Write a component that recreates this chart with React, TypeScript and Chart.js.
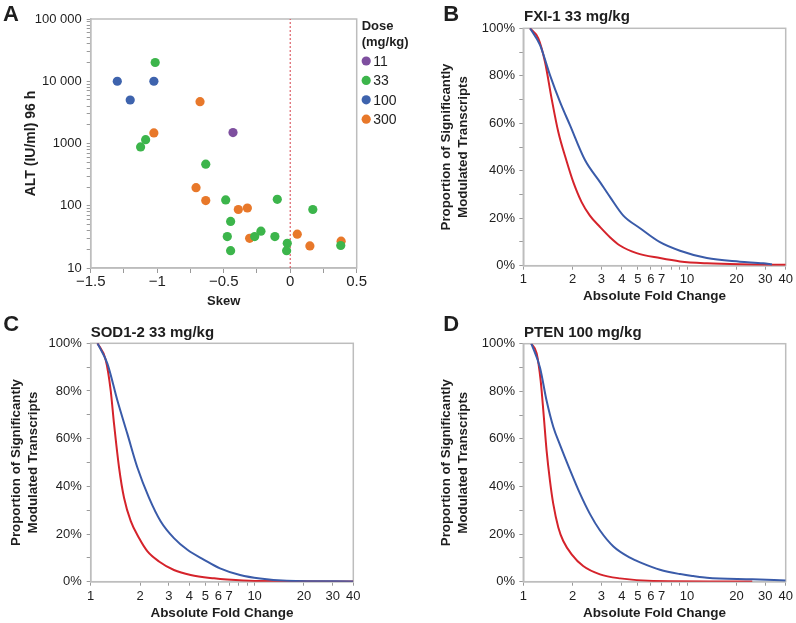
import React, { useEffect, useRef } from 'react';
import { Chart, registerables } from 'chart.js';

Chart.register(...registerables);

const FONT = "'Liberation Sans', Arial, Helvetica, sans-serif";
Chart.defaults.font.family = FONT;

// ---------- Panel A data ----------
const DOSE_LABELS = ['11', '33', '100', '300'];
const DOSE_COLORS = ['#7e4f9f', '#3cb54b', '#3e63ad', '#e8782a'];
const SKEW_11 = [-0.43];
const ALT_11 = [1500];
const SKEW_33 = [-1.015, -1.125, -1.087, -0.635, -0.485, -0.097, 0.17, -0.448, -0.22, -0.473, -0.267, -0.115, -0.022, 0.38, -0.448, -0.027];
const ALT_33 = [20000, 880, 1150, 465, 124, 127, 87, 56, 39, 32, 32, 32, 25, 23, 19, 19];
const SKEW_100 = [-1.3, -1.203, -1.025];
const ALT_100 = [10000, 5000, 10000];
const SKEW_300 = [-0.678, -1.025, -0.708, -0.635, -0.39, -0.322, 0.053, -0.305, 0.383, 0.148];
const ALT_300 = [4700, 1480, 195, 121, 87, 92, 35, 30, 27, 22.6];
const REF_SKEW = 0;
const ALT_MIN = 10;
const ALT_MAX = 100000;
const ALT_LABEL_VALUES = [10, 100, 1000, 10000, 100000];
const ALT_LABELS = ['10', '100', '1000', '10 000', '100 000'];
const SKEW_TICKS = [-1.5, -1.25, -1, -0.75, -0.5, -0.25, 0, 0.25, 0.5];
const SKEW_LABEL_VALUES = [-1.5, -1, -0.5, 0, 0.5];
const SKEW_LABELS = ['\u22121.5', '\u22121', '\u22120.5', '0', '0.5'];

// ---------- Panels B-D data ----------
const FOLD_TICKS = [1, 2, 3, 4, 5, 6, 7, 8, 9, 10, 20, 30, 40];
const FOLD_LABELLED = [1, 2, 3, 4, 5, 6, 7, 10, 20, 30, 40];
const RED = '#d5232b';
const BLUE = '#3a5ba9';

const B_RED_X = [1.1, 1.235, 1.356, 1.489, 1.636, 1.839, 2.02, 2.27, 2.55, 2.94, 3.38, 3.89, 4.92, 6.83, 9.05, 13.2, 21, 40];
const B_RED_Y = [100, 95.8, 85.9, 70.4, 56.3, 44, 35.2, 26.8, 21.1, 16.3, 12, 8.5, 5.3, 3.2, 1.8, 1.0, 0.56, 0.4];
const B_BLUE_X = [1.1, 1.264, 1.455, 1.675, 1.927, 2.38, 2.94, 3.38, 4.08, 5.16, 6.83, 9.05, 13.2, 21, 29.2, 33];
const B_BLUE_Y = [100, 93, 80.3, 69, 59.2, 44.5, 35.2, 29, 21.1, 15.8, 9.9, 6.3, 3.2, 1.7, 1.0, 0.5];

const C_RED_X = [1.1, 1.235, 1.324, 1.388, 1.489, 1.597, 1.756, 1.972, 2.22, 2.61, 3.22, 4.07, 5.66, 6.8, 10, 40];
const C_RED_Y = [100, 93, 80.3, 66.2, 47.9, 35.2, 25.4, 18.3, 12.7, 8.5, 4.9, 2.8, 1.4, 0.9, 0.3, 0.1];
const C_BLUE_X = [1.1, 1.264, 1.455, 1.674, 1.926, 2.27, 2.67, 3.22, 3.89, 4.92, 6.15, 8.15, 10.8, 15.7, 40];
const C_BLUE_Y = [100, 91.5, 76, 62, 47.9, 35.2, 25.4, 18.3, 13.4, 9.2, 5.6, 2.8, 1.3, 0.4, 0.1];

const D_RED_X = [1.12, 1.206, 1.276, 1.33, 1.388, 1.455, 1.525, 1.636, 1.754, 1.973, 2.32, 2.94, 3.89, 6.2, 25];
const D_RED_Y = [100, 96, 84.6, 70.5, 55, 42.4, 32.6, 22.8, 17.1, 11.5, 6.6, 3.1, 1.4, 0.3, 0.1];
const D_BLUE_X = [1.12, 1.264, 1.388, 1.525, 1.675, 1.927, 2.22, 2.55, 2.94, 3.55, 4.48, 5.3, 6.83, 9.05, 10.9, 13.2, 25, 40];
const D_BLUE_Y = [100, 90, 76, 65, 57.5, 47, 37, 28.5, 21.5, 14.8, 10.1, 7.8, 5, 3.2, 2.4, 1.7, 1.0, 0.5];

const Y_TITLE = ['Proportion of Significantly', 'Modulated Transcripts'];
const X_TITLE = 'Absolute Fold Change';

const pts = (xs: number[], ys: number[]) => xs.map((x, i) => ({ x, y: ys[i] }));

const FRAME = '#bdbdbd';
const TICKC = '#9a9a9a';
const TEXTC = '#1e1e1e';

const decorPlugin = {
  id: 'decor',
  beforeDatasetsDraw(chart: any) {
    const { ctx, chartArea: ca } = chart;
    ctx.save();
    ctx.strokeStyle = FRAME;
    ctx.lineWidth = 1.5;
    ctx.strokeRect(ca.left, ca.top, ca.right - ca.left, ca.bottom - ca.top);
    ctx.restore();
  },
  afterDraw(chart: any, _a: any, opts: any) {
    const ctx = chart.ctx;
    ctx.save();
    ctx.textAlign = 'left';
    ctx.textBaseline = 'alphabetic';
    for (const t of opts.texts || []) {
      ctx.font = t.font;
      ctx.fillStyle = TEXTC;
      ctx.fillText(t.text, t.x, t.y);
    }
    const lg = opts.legend;
    if (lg) {
      ctx.font = `bold 13px ${FONT}`;
      ctx.fillStyle = TEXTC;
      ctx.fillText(lg.title[0], lg.x, lg.titleY[0]);
      ctx.fillText(lg.title[1], lg.x, lg.titleY[1]);
      ctx.font = `14px ${FONT}`;
      let k = 0;
      chart.data.datasets.forEach((ds: any) => {
        if (!DOSE_LABELS.includes(ds.label)) return;
        const cy = lg.itemY + k * lg.step;
        ctx.beginPath();
        ctx.fillStyle = ds.backgroundColor;
        ctx.arc(lg.x + 4.5, cy, 4.6, 0, Math.PI * 2);
        ctx.fill();
        ctx.fillStyle = TEXTC;
        ctx.fillText(ds.label, lg.x + 11.5, cy + 5);
        k++;
      });
    }
    ctx.restore();
  },
};

function makeScatterConfig(): any {
  const series = [
    [SKEW_11, ALT_11],
    [SKEW_33, ALT_33],
    [SKEW_100, ALT_100],
    [SKEW_300, ALT_300],
  ];
  const datasets: any[] = series.map(([xs, ys], i) => ({
    label: DOSE_LABELS[i],
    data: pts(xs, ys),
    backgroundColor: DOSE_COLORS[i],
    borderColor: DOSE_COLORS[i],
    pointRadius: 4.6,
    pointHoverRadius: 4.6,
    pointBorderWidth: 0,
  }));
  datasets.push({
    label: 'ref',
    type: 'line',
    data: [{ x: REF_SKEW, y: ALT_MIN }, { x: REF_SKEW, y: ALT_MAX }],
    showLine: true,
    borderColor: '#d8414a',
    borderWidth: 1,
    borderDash: [2, 2],
    pointRadius: 0,
  });
  const altTicks: number[] = [];
  for (let d = ALT_MIN; d < ALT_MAX; d *= 10) for (let m = 1; m < 10; m++) altTicks.push(m * d);
  altTicks.push(ALT_MAX);
  return {
    type: 'scatter',
    data: { datasets },
    options: {
      responsive: false,
      animation: false,
      events: [],
      layout: { padding: { left: 0, right: 68.3, top: 19, bottom: 0 }, autoPadding: false },
      plugins: {
        legend: { display: false },
        tooltip: { enabled: false },
        decor: {
          texts: [{ text: 'A', x: 3, y: 21, font: `bold 22px ${FONT}` }],
          legend: { x: 361.7, title: ['Dose', '(mg/kg)'], titleY: [30, 46], itemY: 61, step: 19.4 },
        },
      },
      scales: {
        x: {
          type: 'linear',
          min: -1.5,
          max: 0.5,
          afterBuildTicks: (s: any) => { s.ticks = SKEW_TICKS.map((v) => ({ value: v })); },
          afterFit: (s: any) => { s.height = 42; },
          ticks: {
            autoSkip: false,
            maxRotation: 0,
            padding: 0,
            color: TEXTC,
            font: { size: 15 },
            callback: (v: number) => {
              const i = SKEW_LABEL_VALUES.findIndex((u) => Math.abs(u - v) < 1e-6);
              return i >= 0 ? SKEW_LABELS[i] : '';
            },
          },
          grid: { display: true, drawOnChartArea: false, drawTicks: true, tickLength: 5, tickColor: TICKC, color: TICKC },
          border: { display: true, color: FRAME, width: 1.5 },
          title: { display: true, text: 'Skew', color: TEXTC, font: { size: 13, weight: 'bold' }, padding: { top: 0, bottom: 1.2 } },
        },
        y: {
          type: 'logarithmic',
          min: ALT_MIN,
          max: ALT_MAX,
          afterBuildTicks: (s: any) => { s.ticks = altTicks.map((v) => ({ value: v })); },
          afterFit: (s: any) => { s.width = 90.7; },
          ticks: {
            autoSkip: false,
            padding: 5,
            color: TEXTC,
            font: { size: 13 },
            callback: (v: number) => {
              const i = ALT_LABEL_VALUES.indexOf(v);
              return i >= 0 ? ALT_LABELS[i] : '';
            },
          },
          grid: { display: true, drawOnChartArea: false, drawTicks: true, tickLength: 4, tickColor: TICKC, color: TICKC },
          border: { display: true, color: FRAME, width: 1.5 },
          title: { display: true, text: 'ALT (IU/ml) 96 h', color: TEXTC, font: { size: 14, weight: 'bold' }, padding: { top: 22.3, bottom: 0 } },
        },
      },
    },
    plugins: [decorPlugin],
  };
}

function makeCurveConfig(p: any): any {
  return {
    type: 'line',
    data: {
      datasets: [
        { label: 'blue', data: pts(p.bx, p.by), borderColor: BLUE, borderWidth: 2, pointRadius: 0, cubicInterpolationMode: 'monotone', fill: false },
        { label: 'red', data: pts(p.rx, p.ry), borderColor: RED, borderWidth: 2, pointRadius: 0, cubicInterpolationMode: 'monotone', fill: false },
      ],
    },
    options: {
      responsive: false,
      animation: false,
      events: [],
      layout: { padding: { left: 0, right: p.padRight, top: p.padTop, bottom: 0 }, autoPadding: false },
      plugins: {
        legend: { display: false },
        tooltip: { enabled: false },
        decor: {
          texts: [
            { text: p.letter, x: p.letterX, y: p.letterY, font: `bold 22px ${FONT}` },
            { text: p.title, x: p.titleX, y: p.titleY, font: `bold 15px ${FONT}` },
          ],
        },
      },
      scales: {
        x: {
          type: 'logarithmic',
          min: 1,
          max: 40,
          afterBuildTicks: (s: any) => { s.ticks = FOLD_TICKS.map((v) => ({ value: v })); },
          afterFit: (s: any) => { s.height = p.xHeight; },
          ticks: {
            autoSkip: false,
            maxRotation: 0,
            padding: p.xTickPad,
            color: TEXTC,
            font: { size: 13 },
            callback: (v: number) => (FOLD_LABELLED.includes(v) ? String(v) : ''),
          },
          grid: { display: true, drawOnChartArea: false, drawTicks: true, tickLength: 4, tickColor: TICKC, color: TICKC },
          border: { display: true, color: FRAME, width: 1.5 },
          title: { display: true, text: X_TITLE, color: TEXTC, font: { size: 13.5, weight: 'bold' }, padding: { top: 0, bottom: p.xTitlePad } },
        },
        y: {
          type: 'linear',
          min: 0,
          max: 100,
          afterFit: (s: any) => { s.width = p.yWidth; },
          ticks: {
            stepSize: 10,
            autoSkip: false,
            padding: p.yTickPad,
            color: TEXTC,
            font: { size: 13 },
            callback: (v: number) => (Math.round(v) % 20 === 0 ? `${Math.round(v)}%` : ''),
          },
          grid: { display: true, drawOnChartArea: false, drawTicks: true, tickLength: 4, tickColor: TICKC, color: TICKC },
          border: { display: true, color: FRAME, width: 1.5 },
          title: { display: true, text: Y_TITLE, color: TEXTC, font: { size: 13.3, weight: 'bold', lineHeight: 1.25 }, padding: { top: p.yTitlePad, bottom: 0 } },
        },
      },
    },
    plugins: [decorPlugin],
  };
}

function Panel({ left, top, width, height, config }: any) {
  const ref = useRef<HTMLCanvasElement | null>(null);
  useEffect(() => {
    if (!ref.current) return;
    const chart = new Chart(ref.current, config);
    return () => chart.destroy();
  }, []);
  return (
    <canvas
      ref={ref}
      width={width}
      height={height}
      style={{ position: 'absolute', left, top, width, height }}
    />
  );
}

export default function App() {
  const cfgA = makeScatterConfig();
  const cfgB = makeCurveConfig({
    bx: B_BLUE_X, by: B_BLUE_Y, rx: B_RED_X, ry: B_RED_Y,
    padRight: 10.3, padTop: 28.3, xHeight: 44.3, yWidth: 98.3,
    xTickPad: 1.8, yTickPad: 4.3, xTitlePad: 5.5, yTitlePad: 13.4,
    letter: 'B', letterX: 18.3, letterY: 21, title: 'FXI-1 33 mg/kg', titleX: 99, titleY: 20.5,
  });
  const cfgC = makeCurveConfig({
    bx: C_BLUE_X, by: C_BLUE_Y, rx: C_RED_X, ry: C_RED_Y,
    padRight: 46.7, padTop: 33.3, xHeight: 41.3, yWidth: 90.7,
    xTickPad: 2.5, yTickPad: 5, xTitlePad: 1.9, yTitlePad: 8.4,
    letter: 'C', letterX: 3.3, letterY: 21, title: 'SOD1-2 33 mg/kg', titleX: 90.7, titleY: 27,
  });
  const cfgD = makeCurveConfig({
    bx: D_BLUE_X, by: D_BLUE_Y, rx: D_RED_X, ry: D_RED_Y,
    padRight: 10.3, padTop: 33.7, xHeight: 41.3, yWidth: 98.3,
    xTickPad: 2.5, yTickPad: 4.3, xTitlePad: 1.9, yTitlePad: 13.4,
    letter: 'D', letterX: 18.3, letterY: 21, title: 'PTEN 100 mg/kg', titleX: 99, titleY: 27,
  });
  return (
    <div style={{ position: 'absolute', left: 0, top: 0, width: 796, height: 623, background: '#fff', overflow: 'hidden' }}>
      <Panel left={0} top={0} width={425} height={310} config={cfgA} />
      <Panel left={425} top={0} width={371} height={310} config={cfgB} />
      <Panel left={0} top={310} width={400} height={313} config={cfgC} />
      <Panel left={425} top={310} width={371} height={313} config={cfgD} />
    </div>
  );
}
